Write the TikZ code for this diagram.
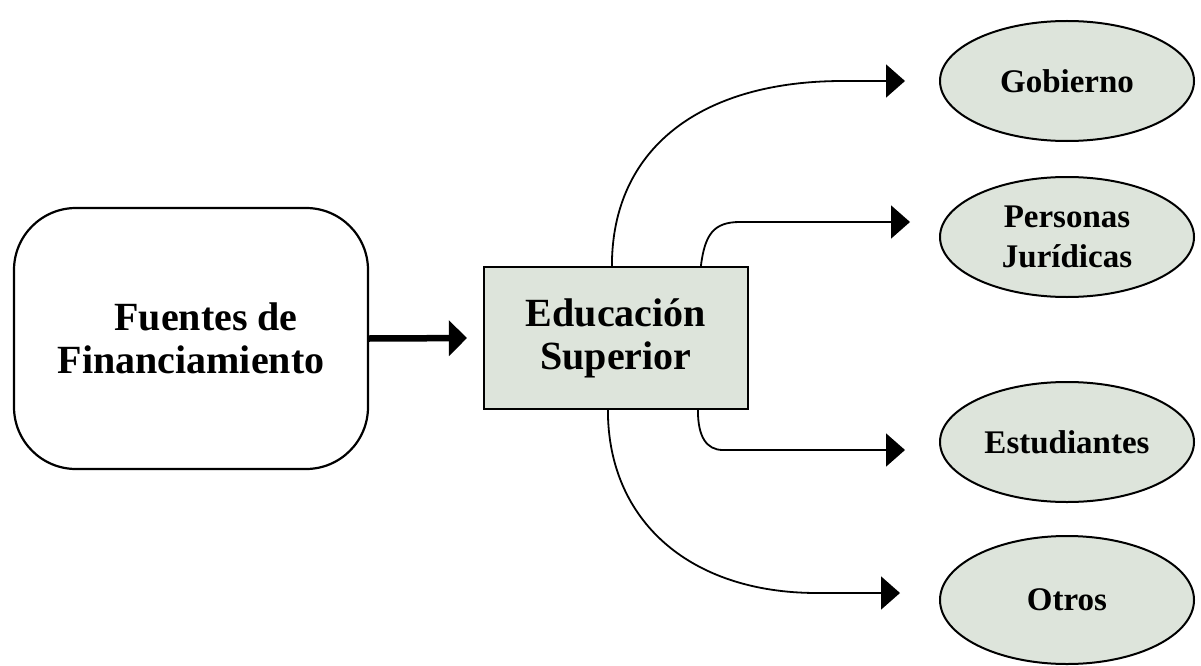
\documentclass[tikz,border=0pt]{standalone}
\usepackage{fontspec}
\setmainfont{Liberation Serif}
\usetikzlibrary{arrows.meta,calc,shapes.geometric}
\definecolor{boxfill}{HTML}{DDE4DB}
\begin{document}
\begin{tikzpicture}[x=1pt,y=-1pt,
  every node/.style={font=\bfseries},
  bigtext/.style={font=\bfseries\fontsize{40}{43}\selectfont, align=center},
  ovaltext/.style={font=\bfseries\fontsize{33}{40}\selectfont, align=center},
  source/.style={draw=black, line width=2.2pt, rounded corners=62pt, fill=white,
    minimum width=354pt, minimum height=261pt, inner sep=0pt, bigtext},
  sector/.style={draw=black, line width=2.2pt, fill=boxfill,
    minimum width=264pt, minimum height=142pt, inner sep=0pt, bigtext},
  payer/.style={ellipse, draw=black, line width=2pt, fill=boxfill,
    minimum width=254pt, minimum height=120pt, inner sep=0pt, ovaltext},
  flow/.style={line width=1.8pt, -{Triangle[length=19pt,width=33pt]}},
  mainflow/.style={line width=6.5pt, -{Triangle[length=18pt,width=35pt]}, shorten >=16pt}
]
\useasboundingbox (0,0) rectangle (1201,666);

% main blocks
\node[source] (fuentes) at (191,338.5) {\hspace*{30pt}Fuentes de\\Financiamiento};
\node[sector] (edu) at (616,338) {Educación\\Superior};

% receiving groups
\node[payer] (gob) at (1067,81) {Gobierno};
\node[payer] (per) at (1067,237) {Personas\\Jurídicas};
\node[payer] (est) at (1067,442) {Estudiantes};
\node[payer, minimum height=128pt] (otr) at (1067,600) {Otros};

% start and end points of the distribution lines
\coordinate (s1) at ($(edu.north west)+(129,0)$);
\coordinate (s2) at ($(edu.north west)+(218,0)$);
\coordinate (s3) at ($(edu.south west)+(215,0)$);
\coordinate (s4) at ($(edu.south west)+(125,0)$);
\coordinate (e1) at (905,81);
\coordinate (e2) at (910,222);
\coordinate (e3) at (905,450);
\coordinate (e4) at (900,593);

% connectors
\draw[mainflow] (fuentes.east) -- (edu.west);
\draw[flow] (s1) .. controls ($(s1)+(0,-117)$) and (700,81) .. (843,81) -- (e1);
\draw[flow] (s2) .. controls ($(s2)+(4,-32)$) and (714,222) .. (740,222) -- (e2);
\draw[flow] (s3) .. controls ($(s3)+(0,26)$) and (706,450) .. (723,450) -- (e3);
\draw[flow] (s4) .. controls ($(s4)+(0,111)$) and (690,593) .. (817,593) -- (e4);
\end{tikzpicture}
\end{document}
